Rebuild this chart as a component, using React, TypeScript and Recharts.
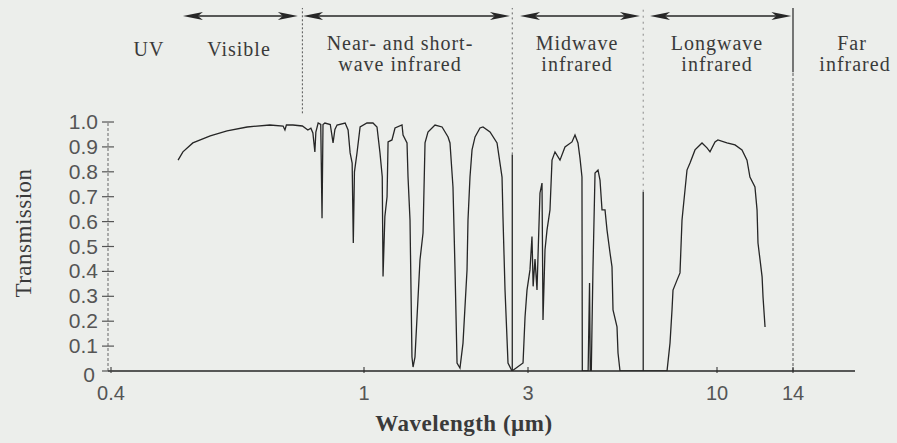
import { LineChart, Line, XAxis, YAxis, ReferenceLine, Customized } from 'recharts';

// atmospheric transmission: wavelength in µm, transmission 0..1
const wavelength = [
    0.510, 0.519, 0.538, 0.573, 0.609, 0.655, 0.711, 0.746, 0.751, 0.755, 0.773, 0.800, 0.816, 0.825, 0.831, 0.837,
    0.840, 0.847, 0.855, 0.859, 0.862, 0.868, 0.885, 0.894, 0.900, 0.907, 0.934, 0.944, 0.951, 0.958, 0.962, 0.966,
    0.975, 0.986, 1.020, 1.062, 1.091, 1.113, 1.130, 1.136, 1.150, 1.167, 1.175, 1.206, 1.231, 1.290, 1.299, 1.334,
    1.343, 1.361, 1.379, 1.389, 1.407, 1.455, 1.485, 1.505, 1.535, 1.609, 1.687, 1.756, 1.779, 1.815, 1.840, 1.865,
    1.902, 1.941, 1.994, 2.007, 2.034, 2.062, 2.104, 2.175, 2.219, 2.326, 2.438, 2.521, 2.537, 2.572, 2.624, 2.695,
    2.902, 2.941, 2.980, 3.038, 3.077, 3.100, 3.137, 3.177, 3.197, 3.238, 3.280, 3.301, 3.343, 3.386, 3.451, 3.496,
    3.563, 3.678, 3.797, 3.970, 4.047, 4.125, 4.178, 4.231, 4.240, 4.400, 4.440, 4.460, 4.490, 4.510, 4.539, 4.598,
    4.686, 4.746, 4.807, 4.900, 4.963, 5.059, 5.123, 5.156, 5.289, 5.323, 5.391, 7.273, 7.413, 7.508, 7.556, 7.751,
    7.900, 8.002, 8.053, 8.156, 8.260, 8.420, 8.693, 9.089, 9.383, 9.564, 9.874, 10.04, 10.45, 10.83, 11.17, 11.42,
    11.57, 11.83, 11.94, 11.99, 12.10, 12.21, 12.26, 12.37
];
const transmission = [
    0.847, 0.880, 0.916, 0.944, 0.964, 0.980, 0.988, 0.984, 0.968, 0.988, 0.988, 0.984, 0.968, 0.975, 0.956, 0.880,
    0.960, 0.996, 0.990, 0.614, 0.990, 0.996, 0.990, 0.916, 0.970, 0.988, 0.996, 0.968, 0.876, 0.835, 0.514, 0.800,
    0.876, 0.980, 0.996, 0.996, 0.980, 0.876, 0.780, 0.380, 0.620, 0.700, 0.920, 0.928, 0.976, 0.988, 0.948, 0.916,
    0.779, 0.606, 0.056, 0.016, 0.056, 0.446, 0.554, 0.916, 0.960, 0.988, 0.980, 0.940, 0.916, 0.739, 0.406, 0.032,
    0.012, 0.112, 0.406, 0.606, 0.779, 0.888, 0.940, 0.976, 0.980, 0.960, 0.916, 0.779, 0.618, 0.325, 0.032, 0,
    0.032, 0.217, 0.325, 0.406, 0.540, 0.340, 0.450, 0.325, 0.458, 0.715, 0.755, 0.205, 0.486, 0.566, 0.647, 0.847,
    0.880, 0.847, 0.900, 0.920, 0.948, 0.916, 0.855, 0.779, 0, 0, 0.353, 0, 0, 0.177, 0.418, 0.795,
    0.807, 0.767, 0.647, 0.647, 0.566, 0.474, 0.418, 0.245, 0.177, 0.072, 0, 0, 0.112, 0.245, 0.325, 0.365,
    0.394, 0.606, 0.647, 0.727, 0.807, 0.835, 0.888, 0.916, 0.896, 0.880, 0.920, 0.928, 0.916, 0.908, 0.888, 0.847,
    0.779, 0.739, 0.647, 0.514, 0.446, 0.378, 0.297, 0.177
];

const xTickWavelengths = [0.4, 1, 3, 10, 14];
const xTickLabels = ['0.4', '1', '3', '10', '14'];
const yTicks = [0, 0.1, 0.2, 0.3, 0.4, 0.5, 0.6, 0.7, 0.8, 0.9, 1.0];
const yTickLabels = ['0', '0.1', '0.2', '0.3', '0.4', '0.5', '0.6', '0.7', '0.8', '0.9', '1.0'];

// band limits (µm) and the arrows spanning each band
const bandEdges = [0.8, 2.7, 6.25, 14];
const arrowStarts = [0.519, 0.802, 2.844, 6.527];
const arrowEnds = [0.787, 2.659, 6.123, 13.9];

// the printed axis is not a plain log axis: piecewise log between the labelled ticks
const axisAnchors: [number, number][] = [[0.4, 0], [1, 253], [3, 417], [10, 606], [14, 682]];
const warp = (l: number) => {
    let i = 0;
    while (i < axisAnchors.length - 2 && l > axisAnchors[i + 1][0]) i++;
    const [l0, p0] = axisAnchors[i];
    const [l1, p1] = axisAnchors[i + 1];
    return p0 + ((Math.log10(l) - Math.log10(l0)) / (Math.log10(l1) - Math.log10(l0))) * (p1 - p0);
};

const data = wavelength.map((l, i) => ({ u: warp(l), t: transmission[i] }));

const INK = '#262626';
const TEXT = '#3a3a3a';
const SERIF = '"Liberation Serif", "DejaVu Serif", serif';
const SANS = '"Liberation Sans", Arial, sans-serif';
const AXIS_X = 108;
const TOP = 1.458;

const XTick = (props: any) => {
    const { x, y, payload } = props;
    const idx = xTickWavelengths.findIndex(w => Math.abs(warp(w) - payload.value) < 0.01);
    return (
        <g>
            <line x1={x} x2={x} y1={y - 12} y2={y - 6} stroke={INK} strokeWidth={1} />
            <text x={x} y={y + 21} textAnchor="middle" fontFamily={SANS} fontSize={20} fill="#555">
                {xTickLabels[idx]}
            </text>
        </g>
    );
};

const YTick = (props: any) => {
    const { y, payload } = props;
    const idx = yTicks.findIndex(v => Math.abs(v - payload.value) < 1e-6);
    const isZero = idx === 0;
    return (
        <g>
            <line x1={AXIS_X - 6} x2={AXIS_X + 6} y1={y} y2={y} stroke="#555" strokeWidth={1.2} />
            <text x={isZero ? 95 : 98} y={y + (isZero ? 11 : 7)} textAnchor="end" fontFamily={SANS} fontSize={21} fill="#555">
                {yTickLabels[idx]}
            </text>
        </g>
    );
};

const ArrowShape = (props: any) => {
    const { x1, x2, y1, y2 } = props;
    const y = (y1 + y2) / 2;
    const hl = 20;
    const hw = 4;
    return (
        <g>
            <line x1={x1 + 6} x2={x2 - 6} y1={y} y2={y} stroke={INK} strokeWidth={1.4} />
            <path d={`M${x1},${y} L${x1 + hl},${y - hw} L${x1 + hl - 5},${y} L${x1 + hl},${y + hw} Z`} fill={INK} />
            <path d={`M${x2},${y} L${x2 - hl},${y - hw} L${x2 - hl + 5},${y} L${x2 - hl},${y + hw} Z`} fill={INK} />
        </g>
    );
};

const TextLayer = () => (
    <g fontFamily={SERIF} fill={TEXT} fontSize={20} textAnchor="middle" letterSpacing={1}>
        <text x={149} y={56}>UV</text>
        <text x={239} y={56}>Visible</text>
        <text x={400} y={50}>Near- and short-</text>
        <text x={400} y={71}>wave infrared</text>
        <text x={577} y={50}>Midwave</text>
        <text x={577} y={71}>infrared</text>
        <text x={717} y={50}>Longwave</text>
        <text x={717} y={71}>infrared</text>
        <text x={852} y={50}>Far</text>
        <text x={855} y={71}>infrared</text>
        <text x={464} y={431} fontWeight="bold" fontSize={23} letterSpacing={0.5}>Wavelength (µm)</text>
        <text x={0} y={0} transform="translate(31,233) rotate(-90)" fontSize={23} letterSpacing={0.5}>Transmission</text>
    </g>
);

export default function App() {
    return (
        <div style={{ position: 'absolute', left: 0, top: 0, width: 897, height: 443, background: '#eceeeb' }}>
            <LineChart width={897} height={443} data={data} margin={{ top: 2.5, right: 42, left: 0, bottom: 0 }}>
                <XAxis
                    type="number"
                    dataKey="u"
                    domain={[-3, 744]}
                    allowDataOverflow
                    ticks={xTickWavelengths.map(warp)}
                    interval={0}
                    height={72}
                    axisLine={{ stroke: INK, strokeWidth: 1.6 }}
                    tickLine={false}
                    tick={<XTick />}
                />
                <YAxis
                    type="number"
                    domain={[0, 1.48]}
                    allowDataOverflow
                    ticks={yTicks}
                    interval={0}
                    width={AXIS_X}
                    axisLine={false}
                    tickLine={false}
                    tick={<YTick />}
                />
                {/* dashed y axis, only up to 1.0 */}
                <ReferenceLine
                    segment={[{ x: -3, y: 0 }, { x: -3, y: 1 }]}
                    stroke="#666"
                    strokeDasharray="3 2"
                    strokeWidth={1}
                />
                {/* band boundaries */}
                <ReferenceLine segment={[{ x: warp(bandEdges[0]), y: 1.035 }, { x: warp(bandEdges[0]), y: TOP }]} stroke="#555" strokeDasharray="2 2" />
                <ReferenceLine segment={[{ x: warp(bandEdges[1]), y: 0 }, { x: warp(bandEdges[1]), y: 0.87 }]} stroke={INK} strokeWidth={1.3} />
                <ReferenceLine segment={[{ x: warp(bandEdges[1]), y: 0.87 }, { x: warp(bandEdges[1]), y: TOP }]} stroke="#666" strokeDasharray="2 3" />
                <ReferenceLine segment={[{ x: warp(bandEdges[2]), y: 0 }, { x: warp(bandEdges[2]), y: 0.72 }]} stroke={INK} strokeWidth={1.3} />
                <ReferenceLine segment={[{ x: warp(bandEdges[2]), y: 0.72 }, { x: warp(bandEdges[2]), y: TOP }]} stroke="#888" strokeDasharray="2 4" />
                <ReferenceLine segment={[{ x: warp(bandEdges[3]), y: 0 }, { x: warp(bandEdges[3]), y: 1.2 }]} stroke="#555" strokeDasharray="3 2" />
                <ReferenceLine segment={[{ x: warp(bandEdges[3]), y: 1.2 }, { x: warp(bandEdges[3]), y: TOP }]} stroke={INK} strokeWidth={1.2} />
                {arrowStarts.map((s, i) => (
                    <ReferenceLine
                        key={i}
                        segment={[{ x: warp(s), y: 1.426 }, { x: warp(arrowEnds[i]), y: 1.426 }]}
                        shape={<ArrowShape />}
                    />
                ))}
                <Line
                    type="linear"
                    dataKey="t"
                    stroke={INK}
                    strokeWidth={1.3}
                    dot={false}
                    isAnimationActive={false}
                />
                <Customized component={TextLayer} />
            </LineChart>
        </div>
    );
}
